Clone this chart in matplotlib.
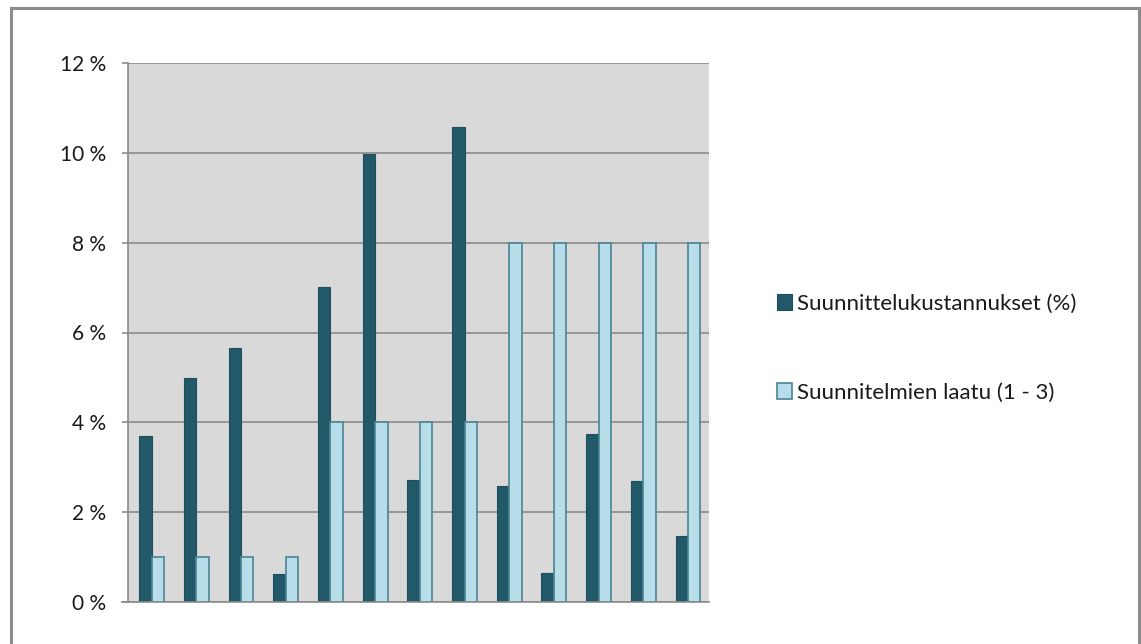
import matplotlib
matplotlib.use("Agg")
import matplotlib.pyplot as plt
from matplotlib.patches import Rectangle
from matplotlib.ticker import FuncFormatter

# values
groups = list(range(1, 14))
kustannukset = [3.70, 4.98, 5.66, 0.63, 7.02, 9.98, 2.72, 10.58, 2.58, 0.65, 3.73, 2.70, 1.48]
laatu = [1, 1, 1, 1, 4, 4, 4, 4, 8, 8, 8, 8, 8]
y_ticks = [0, 2, 4, 6, 8, 10, 12]

plt.rcParams['font.family'] = ['Lato', 'DejaVu Sans']

W, H = 1141, 644
fig = plt.figure(figsize=(W / 100, H / 100), dpi=100)
fig.patch.set_facecolor('white')

# outer chart frame
fig.patches.append(Rectangle((11 / W, -0.05), (1139 - 11) / W, (H - 8) / H + 0.05,
                             transform=fig.transFigure, fill=False,
                             edgecolor='#8c8c8c', linewidth=2.2))

ax = fig.add_axes([128 / W, (H - 602) / H, (709 - 128) / W, (602 - 63) / H])
ax.set_facecolor('#d9d9d9')

x = list(range(len(groups)))
w = 0.278
off = 0.03
ax.bar([i + off - w for i in x], kustannukset, width=w, align='edge',
       color='#215968', edgecolor='#1f4f5c', linewidth=0.8,
       label='Suunnittelukustannukset (%)', zorder=3)
ax.bar([i + off for i in x], laatu, width=w, align='edge',
       color='#b7dde8', edgecolor='#4a8494', linewidth=1.2,
       label='Suunnitelmien laatu (1 - 3)', zorder=3)

ax.set_xlim(-0.5, len(groups) - 0.5)
ax.set_ylim(0, 12)
ax.set_yticks(y_ticks)
ax.yaxis.set_major_formatter(FuncFormatter(lambda v, p: f"{int(v)} %"))
ax.grid(axis='y', color='#8c8c8c', linewidth=1.2, zorder=1)
ax.set_xticks([])
ax.tick_params(axis='y', length=4.5, width=1.2, color='#8c8c8c', pad=11,
               labelsize=15, labelcolor='#1a1a1a')

for s in ['top', 'right']:
    ax.spines[s].set_visible(False)
ax.spines['left'].set_color('#8c8c8c')
ax.spines['left'].set_linewidth(1.2)
ax.spines['bottom'].set_color('#8c8c8c')
ax.spines['bottom'].set_linewidth(1.2)
ax.spines['bottom'].set_bounds(-0.5 - 6 / 44.7, len(groups) - 0.5)
ax.spines['bottom'].set_zorder(4)

leg = ax.legend(loc='upper left', bbox_to_anchor=(768 / W, (H - 285) / H),
                bbox_transform=fig.transFigure, frameon=False, fontsize=16,
                handlelength=0.7, handleheight=0.7, handletextpad=0.2,
                labelspacing=3.1, borderaxespad=0)
for t in leg.get_texts():
    t.set_color('#1a1a1a')

fig.savefig('out.png', dpi=100)
